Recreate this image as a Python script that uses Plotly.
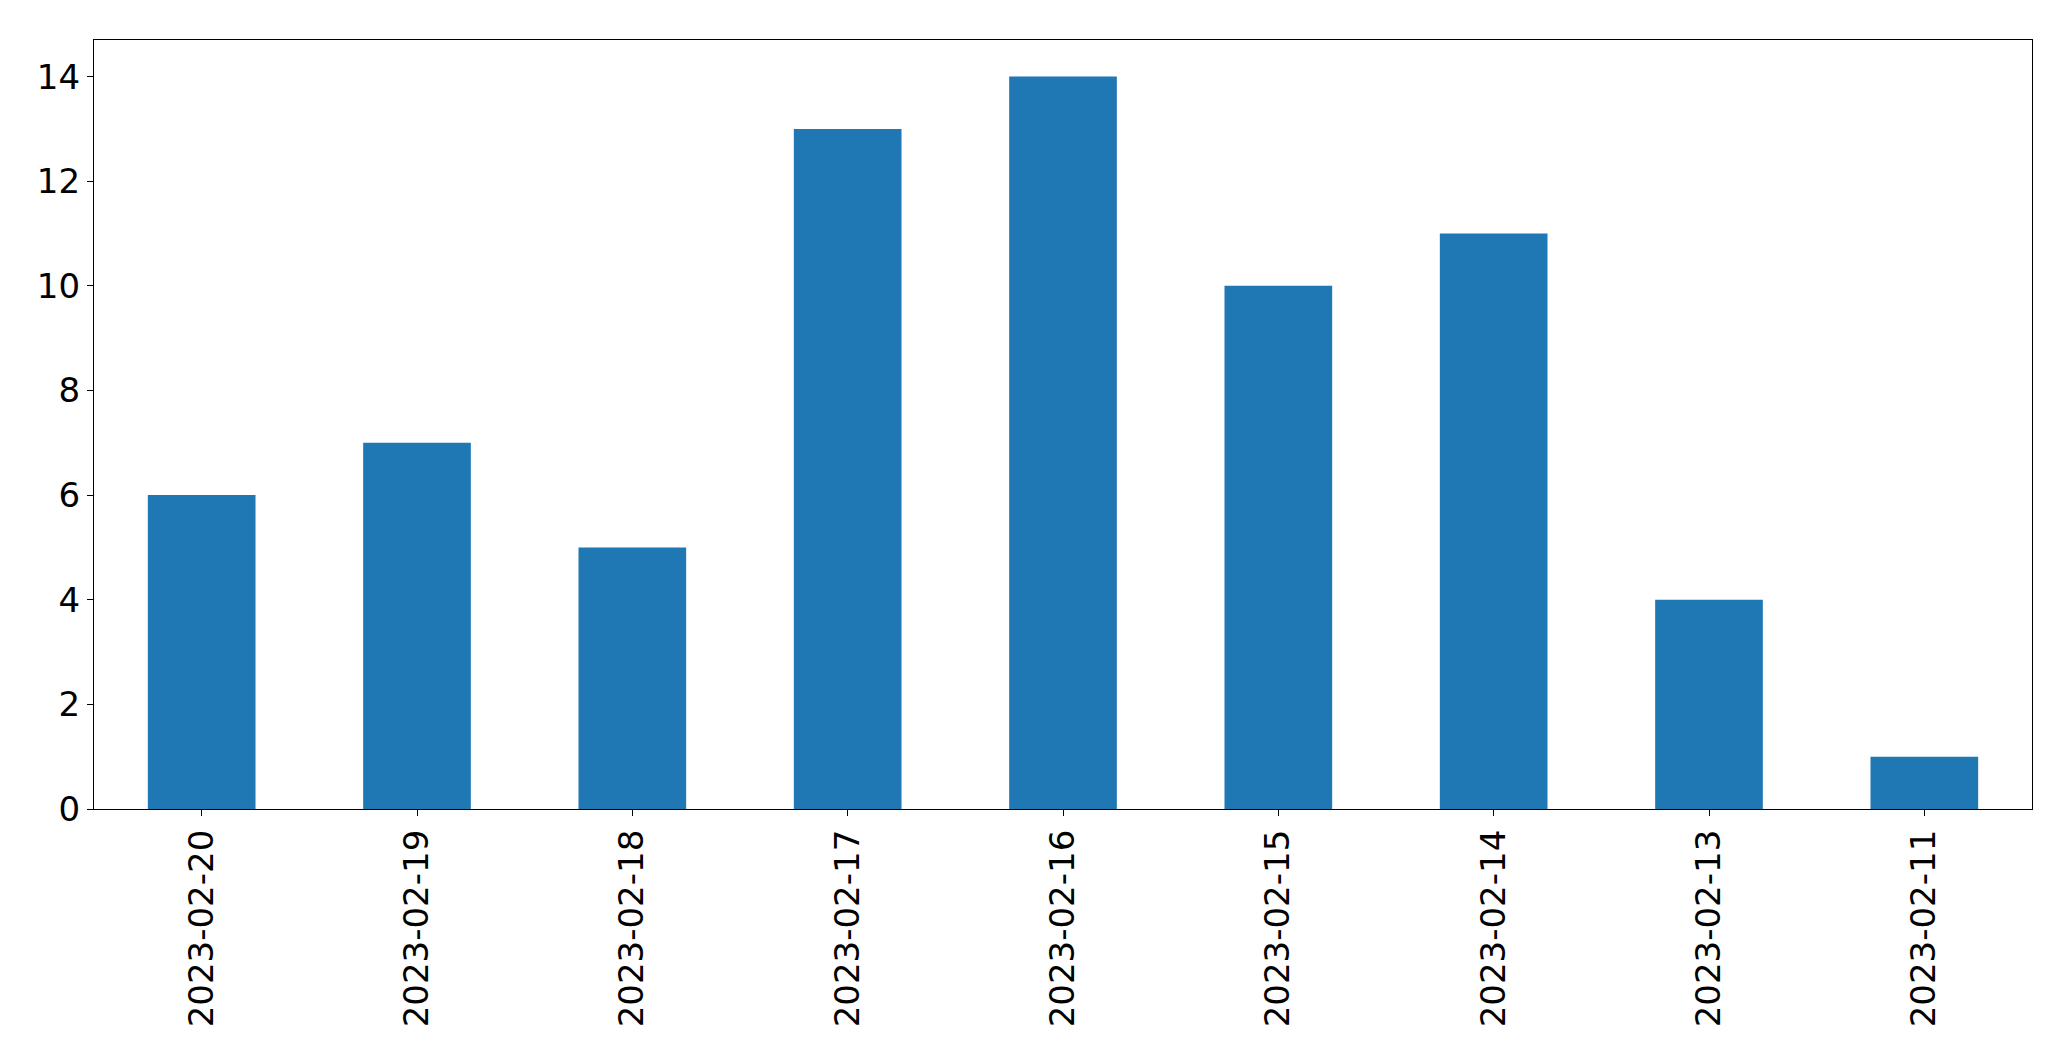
import plotly.graph_objects as go

dates = ["2023-02-20", "2023-02-19", "2023-02-18", "2023-02-17", "2023-02-16",
         "2023-02-15", "2023-02-14", "2023-02-13", "2023-02-11"]
counts = [6, 7, 5, 13, 14, 10, 11, 4, 1]
y_ticks = [0, 2, 4, 6, 8, 10, 12, 14]

fig = go.Figure(go.Bar(x=dates, y=counts, width=0.5, marker_color="#1f77b4",
                       marker_line_width=0))

font = dict(family="DejaVu Sans", size=34, color="black")
fig.update_layout(
    width=2063, height=1053,
    margin=dict(l=86, r=39, t=32, b=252),
    plot_bgcolor="white", paper_bgcolor="white",
    showlegend=False,
    font=font,
)
fig.update_xaxes(
    type="category", range=[-0.5, 8.5], tickangle=-90,
    showline=True, mirror=True, linecolor="black", linewidth=1.3,
    ticks="outside", ticklen=6, tickcolor="black", tickwidth=1.3,
    showgrid=False, tickfont=font,
)
fig.update_yaxes(
    range=[0, 14.7], tickvals=y_ticks,
    showline=True, mirror=True, linecolor="black", linewidth=1.3,
    ticks="outside", ticklen=6, tickcolor="black", tickwidth=1.3,
    showgrid=False, zeroline=False, tickfont=font,
)
fig.write_html("out.html")
